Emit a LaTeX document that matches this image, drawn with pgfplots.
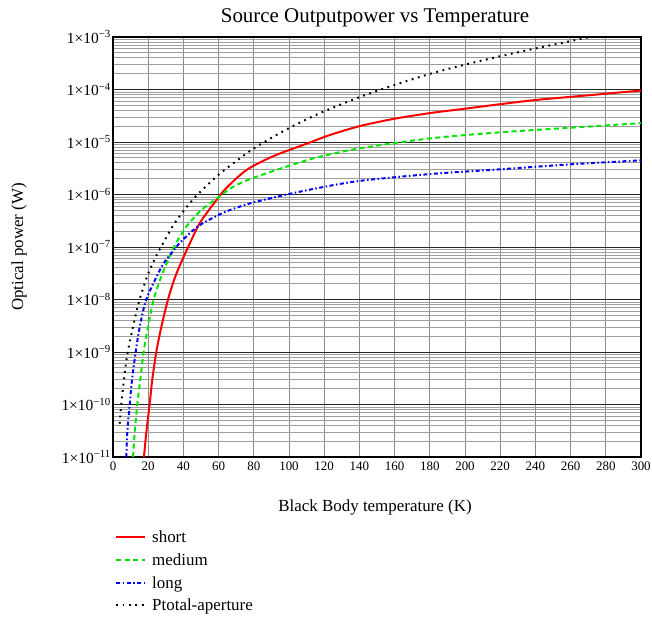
\documentclass[border=0pt]{standalone}
\usepackage{fontspec}
\setmainfont{Liberation Serif}
\usepackage{pgfplots}
\pgfplotsset{compat=1.18}
\definecolor{xgrid}{gray}{0.55}
\definecolor{mgrid}{gray}{0.62}
\definecolor{ygrid}{gray}{0.15}
\begin{document}
\begin{tikzpicture}
\useasboundingbox (0,0) rectangle (652bp,617bp);
\begin{axis}[
  at={(113bp,160bp)}, anchor=south west,
  width=528bp, height=420bp, scale only axis,
  ymode=log, xmin=0, xmax=300, ymin=1e-11, ymax=1e-3,
  xtick={0,20,...,300},
  ytick={1e-11,1e-10,1e-9,1e-8,1e-7,1e-6,1e-5,1e-4,1e-3},
  yticklabels={1×10\textsuperscript{−11},1×10\textsuperscript{−10},1×10\textsuperscript{−9},1×10\textsuperscript{−8},1×10\textsuperscript{−7},1×10\textsuperscript{−6},1×10\textsuperscript{−5},1×10\textsuperscript{−4},1×10\textsuperscript{−3}},
  minor ytick={2e-11,3e-11,4e-11,5e-11,6e-11,7e-11,8e-11,9e-11,
    2e-10,3e-10,4e-10,5e-10,6e-10,7e-10,8e-10,9e-10,
    2e-9,3e-9,4e-9,5e-9,6e-9,7e-9,8e-9,9e-9,
    2e-8,3e-8,4e-8,5e-8,6e-8,7e-8,8e-8,9e-8,
    2e-7,3e-7,4e-7,5e-7,6e-7,7e-7,8e-7,9e-7,
    2e-6,3e-6,4e-6,5e-6,6e-6,7e-6,8e-6,9e-6,
    2e-5,3e-5,4e-5,5e-5,6e-5,7e-5,8e-5,9e-5,
    2e-4,3e-4,4e-4,5e-4,6e-4,7e-4,8e-4,9e-4},
  xmajorgrids, ymajorgrids, yminorgrids,
  major x grid style={xgrid, line width=1bp},
  major y grid style={ygrid, line width=1bp},
  minor y grid style={mgrid, line width=0.8bp},
  major tick length=0pt, minor tick length=0pt,
  axis line style={black, line width=1.2bp},
  /pgf/number format/assume math mode=true,
  xticklabel style={font=\fontsize{13}{15}\selectfont, inner sep=0pt, yshift=-5bp},
  yticklabel style={font=\fontsize{15.5}{17}\selectfont, inner sep=0pt, xshift=-2bp},
  title={Source Outputpower vs Temperature},
  title style={at={(axis description cs:0.5,1)}, anchor=center, yshift=13bp, xshift=-2bp, font=\fontsize{21}{24}\selectfont},
  xlabel={Black Body temperature (K)},
  xlabel style={at={(axis description cs:0.5,0)}, anchor=center, yshift=-50bp, xshift=-2bp, font=\fontsize{17}{20}\selectfont},
  ylabel={Optical power (W)},
  ylabel style={at={(axis description cs:0,0.5)}, anchor=center, yshift=94bp, font=\fontsize{17}{20}\selectfont},
  legend style={at={(axis description cs:0,0)}, anchor=north west, xshift=2bp, yshift=-73bp,
    draw=none, fill=none, inner sep=0pt, row sep=6.9bp, column sep=6bp,
    nodes={inner sep=0pt, text height=12bp, text depth=4bp},
    font=\fontsize{17}{20}\selectfont},
  legend cell align=left,
  legend image code/.code={\draw[#1] (0bp,1.5bp) -- (29bp,1.5bp);},
]
\addplot[red, line width=2bp, smooth, tension=0.5] coordinates {
(17.6,1.0e-11) (18.9,2.88e-11) (20.8,1.0e-10) (22.3,2.95e-10) (24.6,1.0e-9)
(27.5,3.02e-9) (31.25,1.0e-8) (36.0,3.09e-8) (43.0,1.05e-7)
(49.4,2.88e-7) (58.9,7.94e-7) (64.6,1.35e-6) (76,2.95e-6) (91.1,5.37e-6)
(111,9.55e-6) (123,1.35e-5) (140,2.0e-5) (159.3,2.75e-5) (180,3.55e-5)
(199,4.27e-5) (220,5.25e-5) (240,6.31e-5) (260,7.24e-5) (280,8.32e-5) (300,9.55e-5)
};
\addlegendentry{short}
\addplot[color={rgb,255:red,0;green,230;blue,0}, line width=2bp, dash pattern=on 5bp off 3.5bp, smooth, tension=0.5] coordinates {
(11.4,1.0e-11) (12.3,2.88e-11) (13.8,1.0e-10) (15.5,2.95e-10) (17.4,1.0e-9)
(19.9,3.02e-9) (23.1,1.0e-8) (28.0,3.09e-8) (34.7,1.0e-7) (38.1,1.58e-7)
(41.9,2.51e-7) (50.4,5.13e-7) (60.8,9.33e-7) (67.4,1.35e-6) (76.9,1.91e-6)
(93,2.95e-6) (108,4.27e-6) (117.6,5.25e-6) (140.3,7.59e-6) (180,1.17e-5)
(220,1.53e-5) (260,1.87e-5) (300,2.29e-5)
};
\addlegendentry{medium}
\addplot[blue, line width=2bp, dash pattern=on 4bp off 2.5bp on 1.5bp off 2.5bp, smooth, tension=0.5] coordinates {
(7.6,1.0e-11) (8.1,2.88e-11) (9.5,1.0e-10) (10.8,2.95e-10) (12.9,1.0e-9)
(15.2,3.02e-9) (18.9,1.0e-8) (25.6,3.09e-8) (29.0,5.01e-8) (34.3,8.51e-8)
(37.1,1.12e-7) (43.8,1.86e-7) (50.4,2.75e-7) (57,3.63e-7) (64.6,4.79e-7)
(78.8,6.92e-7) (98.7,1.0e-6) (117.6,1.35e-6) (140.3,1.82e-6) (180,2.45e-6)
(220,3.02e-6) (260,3.76e-6) (300,4.47e-6)
};
\addlegendentry{long}
\addplot[black, line width=2bp, dash pattern=on 1.8bp off 4.6bp, smooth, tension=0.5] coordinates {
(3.8,4.3e-11) (4.7,1.0e-10) (6.1,2.7e-10) (8.0,8.5e-10) (11.4,3.05e-9)
(14.8,9.2e-9) (19.9,3.05e-8) (25.6,7.94e-8) (28.6,1.2e-7) (34.7,2.75e-7)
(40.9,5.25e-7) (46.6,8.9e-7) (53.2,1.47e-6) (60.4,2.45e-6) (71.8,4.8e-6)
(78.8,7.1e-6) (91.1,1.26e-5) (102.4,2.02e-5) (117.6,3.55e-5) (140.3,7.2e-5)
(159.3,1.2e-4) (180,1.98e-4) (199,2.92e-4) (220,4.3e-4) (239,5.95e-4)
(260,8.35e-4) (271,1.0e-3) (300,1.5e-3)
};
\addlegendentry{Ptotal-aperture}
\end{axis}
\end{tikzpicture}
\end{document}
